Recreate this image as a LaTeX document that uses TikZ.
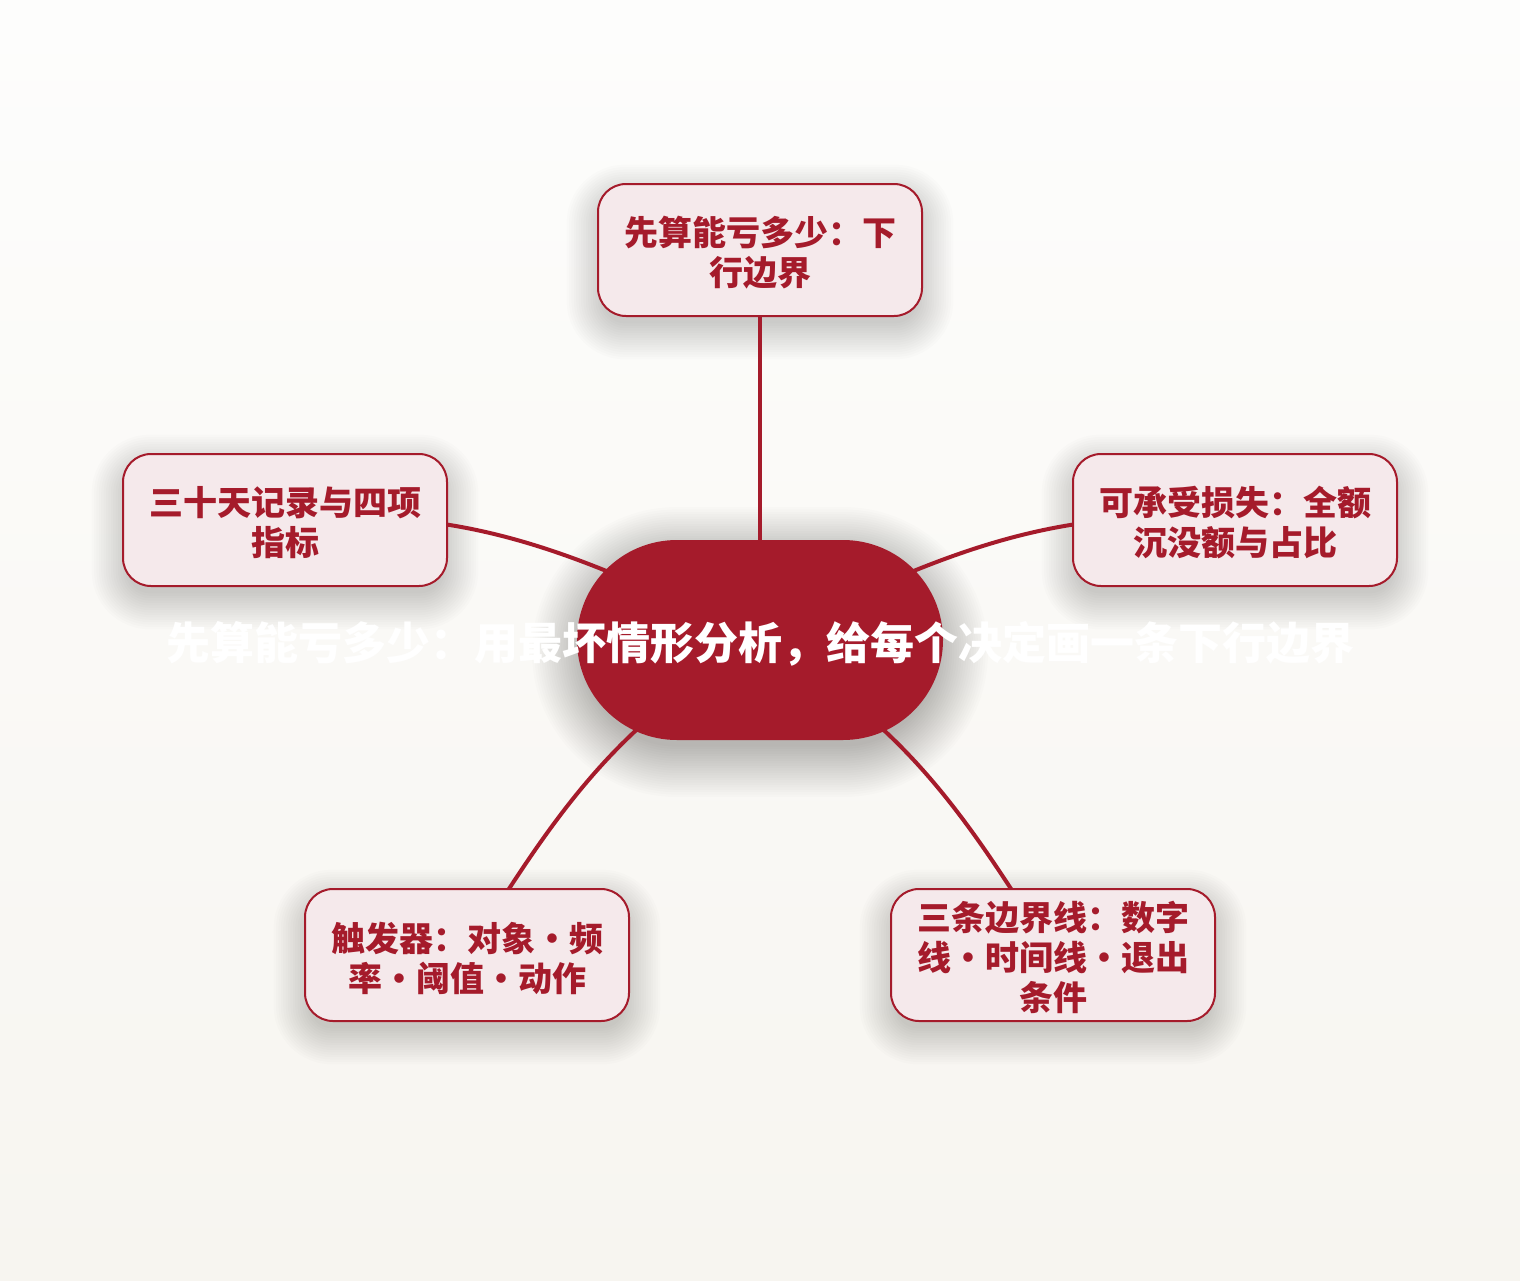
\documentclass[tikz,border=0pt]{standalone}
\usepackage{fontspec}
\setmainfont{Noto Sans CJK SC}
\definecolor{crimson}{HTML}{A51B2B}
\definecolor{boxfill}{HTML}{F5E9EB}
\definecolor{bgtop}{HTML}{FDFDFC}
\definecolor{bgbot}{HTML}{F7F5F0}
\pgfdeclarelayer{bg}
\pgfdeclarelayer{edges}
\pgfsetlayers{bg,edges,main}
\tikzset{
  leaf/.style={draw=crimson, line width=2pt, fill=boxfill, rounded corners=28pt,
    minimum width=324pt, minimum height=132pt, inner sep=0pt},
  leaftext/.style={inner sep=0pt, align=center,
    text=crimson, font=\fontsize{34}{40}\selectfont\bfseries},
  hub/.style={fill=crimson, rounded corners=100pt, minimum width=366pt,
    minimum height=200pt, inner sep=0pt},
  hubtext/.style={inner sep=0pt, font=\fontsize{44}{50}\selectfont\bfseries},
  link/.style={draw=crimson, line width=4pt},
}
\newcommand\mysoftshadow[4]{% node, radius, layers, opacity
  \foreach \i in {1,...,#3}{
    \pgfmathsetmacro\s{\i*2.4-8}
    \pgfmathsetmacro\r{max(#2+\s,1)}
    \fill[black, opacity=#4, rounded corners=\r pt]
      ([shift={(-\s,\s-12)}]#1.north west) rectangle ([shift={(\s,-\s-12)}]#1.south east);
  }}
\begin{document}
\begin{tikzpicture}[x=1pt,y=1pt]
\useasboundingbox (0,0) rectangle (1520,-1280);
\begin{pgfonlayer}{bg}
\shade[top color=bgtop, bottom color=bgbot] (0,0) rectangle (1520,-1280);
\end{pgfonlayer}

\node[hub] (hub) at (760,-640) {};
\node[leaf] (top) at (760,-250) {};
\node[leaf] (left) at (285,-520) {};
\node[leaf] (right) at (1235,-520) {};
\node[leaf] (bl) at (467,-955) {};
\node[leaf] (br) at (1053,-955) {};

\node[leaftext] (topt) at ([yshift=-3]top.center) {先算能亏多少：下\\行边界};
\node[leaftext] (leftt) at ([yshift=-3]left.center) {三十天记录与四项\\指标};
\node[leaftext] (rightt) at ([yshift=-3]right.center) {可承受损失：全额\\沉没额与占比};
\node[leaftext] (blt) at ([yshift=-3]bl.center) {触发器：对象・频\\率・阈值・动作};
\node[leaftext] (brt) at ([yshift=-2]br.center) {三条边界线：数字\\线・时间线・退出\\条件};

\node[hubtext, text=white] (hubt) at (760,-644) {先算能亏多少：用最坏情形分析，给每个决定画一条下行边界};

\begin{pgfonlayer}{bg}
\mysoftshadow{top}{28}{16}{0.011}
\mysoftshadow{left}{28}{16}{0.011}
\mysoftshadow{right}{28}{16}{0.011}
\mysoftshadow{bl}{28}{16}{0.011}
\mysoftshadow{br}{28}{16}{0.011}
\mysoftshadow{hub}{100}{22}{0.012}
\end{pgfonlayer}

\begin{pgfonlayer}{edges}
\draw[link] (hub.center) to[out=90,in=-90] (top.center);
\draw[link] (hub.center) to[out=155,in=5] (left.center);
\draw[link] (hub.center) to[out=25,in=175] (right.center);
\draw[link] (hub.center) to[out=210,in=58] (bl.center);
\draw[link] (hub.center) to[out=-30,in=122] (br.center);
\end{pgfonlayer}
\end{tikzpicture}
\end{document}
